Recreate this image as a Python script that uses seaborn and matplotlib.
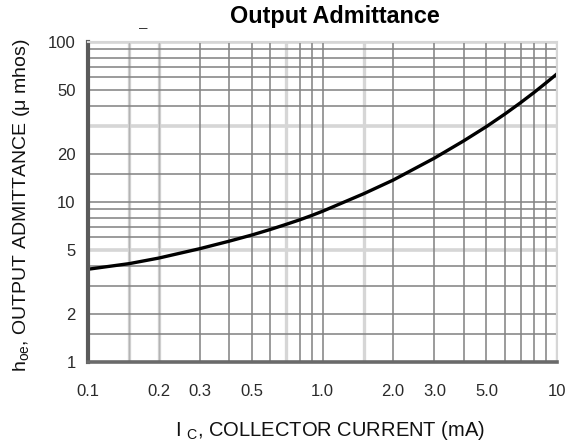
import matplotlib
matplotlib.use("Agg")
import matplotlib.pyplot as plt
import seaborn as sns
import pandas as pd

# ---- data ----
collector_current_ma = [0.1, 0.15, 0.2, 0.3, 0.4, 0.5, 0.6, 0.7, 0.8, 0.9,
                        1.0, 1.5, 2.0, 3.0, 4.0, 5.0, 6.0, 7.0, 8.0, 9.0, 10.0]
output_admittance_umhos = [3.8, 4.12, 4.46, 5.11, 5.69, 6.22, 6.74, 7.25, 7.74, 8.24,
                           8.75, 11.27, 13.7, 18.8, 24.1, 29.6, 35.5, 41.8, 48.5, 55.7, 63.2]

x_tick_values = [0.1, 0.2, 0.3, 0.5, 1.0, 2.0, 3.0, 5.0, 10.0]
x_tick_labels = ["0.1", "0.2", "0.3", "0.5", "1.0", "2.0", "3.0", "5.0", "10"]
y_tick_values = [1, 2, 5, 10, 20, 50, 100]
y_tick_labels = ["1", "2", "5", "10", "20", "50", "100"]

x_grid_dark = [0.3, 0.4, 0.5, 0.6, 0.8, 0.9, 1.0, 2.0, 3.0, 4.0, 5.0, 6.0, 7.0, 8.0, 9.0]
x_grid_light = [0.15, 0.2, 0.7, 1.5, 10.0]
x_grid_mid = [0.15, 0.2]
y_grid_dark = [1.5, 2, 3, 4, 6, 7, 8, 9, 10, 15, 20, 40, 50, 60, 70, 80, 90]
y_grid_light = [5, 30, 100]

df = pd.DataFrame({"Ic": collector_current_ma, "hoe": output_admittance_umhos})

sns.set_theme(style="white")
plt.rcParams["font.family"] = ["Liberation Sans", "DejaVu Sans"]
plt.rcParams["mathtext.fontset"] = "custom"
plt.rcParams["mathtext.rm"] = "Liberation Sans"
plt.rcParams["mathtext.it"] = "Liberation Sans:italic"

fig = plt.figure(figsize=(5.68, 4.43), dpi=100)
ax = fig.add_axes([88 / 568, 1 - 362 / 443, (557 - 88) / 568, (362 - 42) / 443])

ax.set_xscale("log")
ax.set_yscale("log")
ax.set_xlim(0.1, 10)
ax.set_ylim(1, 100)

light = "#d6d6d6"
dark = "#858585"
for v in x_grid_light:
    ax.axvline(v, color=light, lw=2.4, zorder=1)
for v in y_grid_light:
    ax.axhline(v, color=light, lw=2.6, zorder=1)
for v in x_grid_mid:
    ax.axvline(v, color="#b4b4b4", lw=1.0, zorder=1.5)
for v in x_grid_dark:
    ax.axvline(v, color=dark, lw=1.15, zorder=2)
for v in y_grid_dark:
    ax.axhline(v, color=dark, lw=1.15, zorder=2)

sns.lineplot(data=df, x="Ic", y="hoe", ax=ax, color="black", lw=2.4, zorder=5)

ax.set_xticks(x_tick_values)
ax.set_xticklabels(x_tick_labels)
ax.set_yticks(y_tick_values)
ax.set_yticklabels(y_tick_labels)
ax.minorticks_off()
ax.tick_params(axis="x", length=0, pad=16, labelsize=12, labelcolor="#2a2a2a")
ax.tick_params(axis="y", length=0, pad=9, labelsize=12, labelcolor="#2a2a2a")

for side in ["top", "right"]:
    ax.spines[side].set_color(light)
    ax.spines[side].set_linewidth(1.5)
ax.spines["left"].set_color("#5a5a5a")
ax.spines["left"].set_linewidth(3.0)
ax.spines["bottom"].set_color("#6a6a6a")
ax.spines["bottom"].set_linewidth(2.6)
for s in ax.spines.values():
    s.set_zorder(6)

ax.set_xlabel(r"I $_{\mathrm{C}}$, COLLECTOR CURRENT (mA)", fontsize=14.5, color="#111111")
ax.xaxis.label.set_va("center")
ax.xaxis.set_label_coords((330 - 88) / 469, (362 - 430) / 320)

ax.set_ylabel(r"h$_{\mathrm{oe}}$, OUTPUT ADMITTANCE (μ mhos)", fontsize=14, color="#111111")
ax.yaxis.label.set_va("center")
ax.yaxis.set_label_coords((22 - 88) / 469, (362 - 205) / 320)

fig.text(335 / 568, 1 - 17 / 443, "Output Admittance", ha="center", va="center",
         fontsize=16.8, fontweight="bold", color="black")
fig.text(143 / 568, 1 - 28 / 443, "\u2013", ha="center", va="center", fontsize=11, color="#333333")

fig.savefig("out.png", dpi=100)
